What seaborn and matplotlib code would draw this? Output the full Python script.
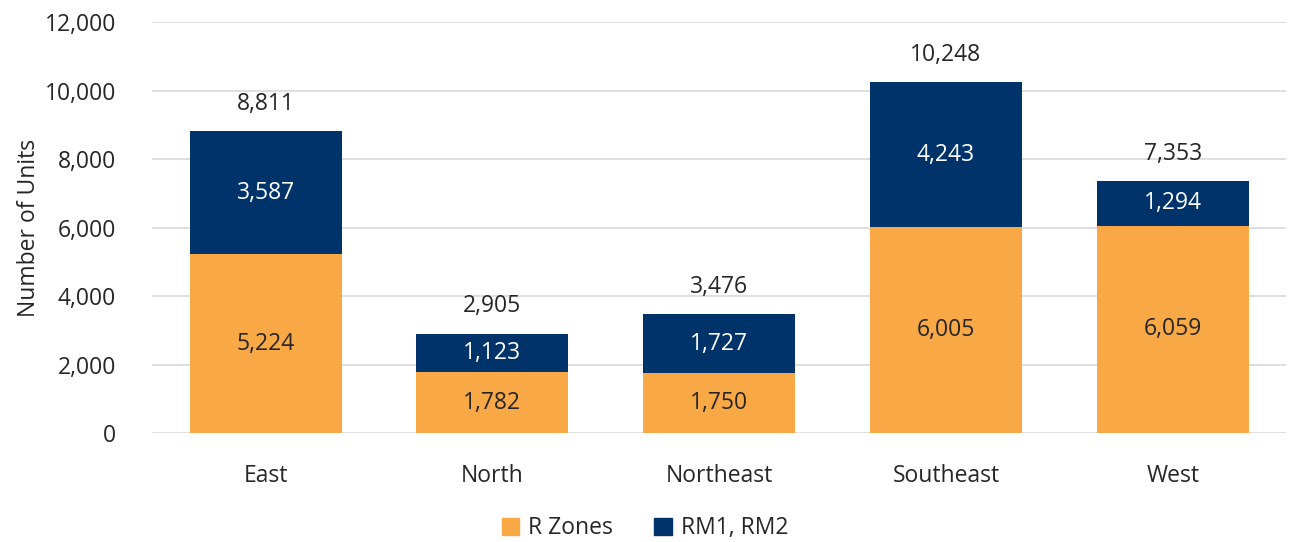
import matplotlib
matplotlib.use("Agg")
import matplotlib.pyplot as plt
import seaborn as sns
import pandas as pd
from matplotlib.patches import Patch

regions = ["East", "North", "Northeast", "Southeast", "West"]
r_zones = [5224, 1782, 1750, 6005, 6059]
rm12 = [3587, 1123, 1727, 4243, 1294]
totals = [8811, 2905, 3476, 10248, 7353]

ORANGE = "#F8A945"
NAVY = "#003369"

sns.set_theme(style="white")
plt.rcParams["font.family"] = ["Open Sans", "DejaVu Sans"]

df = pd.DataFrame({"Region": regions, "R": r_zones, "RM": rm12, "Total": totals})

fig = plt.figure(figsize=(12.9, 5.42), dpi=100)
ax = fig.add_axes([0.118, 0.201, 0.879, 0.758])

sns.barplot(data=df, x="Region", y="Total", color=NAVY, saturation=1, width=0.67,
            linewidth=0, ax=ax)
sns.barplot(data=df, x="Region", y="R", color=ORANGE, saturation=1, width=0.67,
            linewidth=0, ax=ax)

bars_total = ax.containers[0]
bars_r = ax.containers[1]

fs = 16.5
tc = "#262626"
ax.bar_label(bars_total, labels=[f"{v:,}" for v in totals], padding=11, fontsize=fs, color=tc)
ax.bar_label(bars_r, labels=[f"{v:,}" for v in r_zones], label_type="center", fontsize=fs, color=tc)
for i, rect in enumerate(bars_total):
    ax.text(rect.get_x() + rect.get_width() / 2, r_zones[i] + rm12[i] / 2, f"{rm12[i]:,}",
            ha="center", va="center", fontsize=fs, color="white")

ax.set_ylim(0, 12000)
ax.set_xlim(-0.5, 4.5)
ax.set_yticks(range(0, 12001, 2000))
ax.set_yticklabels([f"{v:,}" for v in range(0, 12001, 2000)], fontsize=fs, color=tc)
ax.tick_params(axis="x", labelsize=fs, colors=tc, pad=22, length=0)
ax.tick_params(axis="y", pad=26, length=0)
ax.set_xlabel("")
ax.set_ylabel("Number of Units", fontsize=fs, color=tc, labelpad=3)
ax.yaxis.grid(True, color="#D9D9D9", linewidth=1.2)
ax.set_axisbelow(True)
for s in ax.spines.values():
    s.set_visible(False)

handles = [Patch(color=ORANGE, label="R Zones"), Patch(color=NAVY, label="RM1, RM2")]
fig.legend(handles=handles, loc="lower center", bbox_to_anchor=(0.5, -0.035), ncol=2,
           frameon=False, fontsize=fs, handlelength=0.75, handleheight=0.75,
           handletextpad=0.4, columnspacing=1.8)

fig.savefig("out.png", dpi=100)
